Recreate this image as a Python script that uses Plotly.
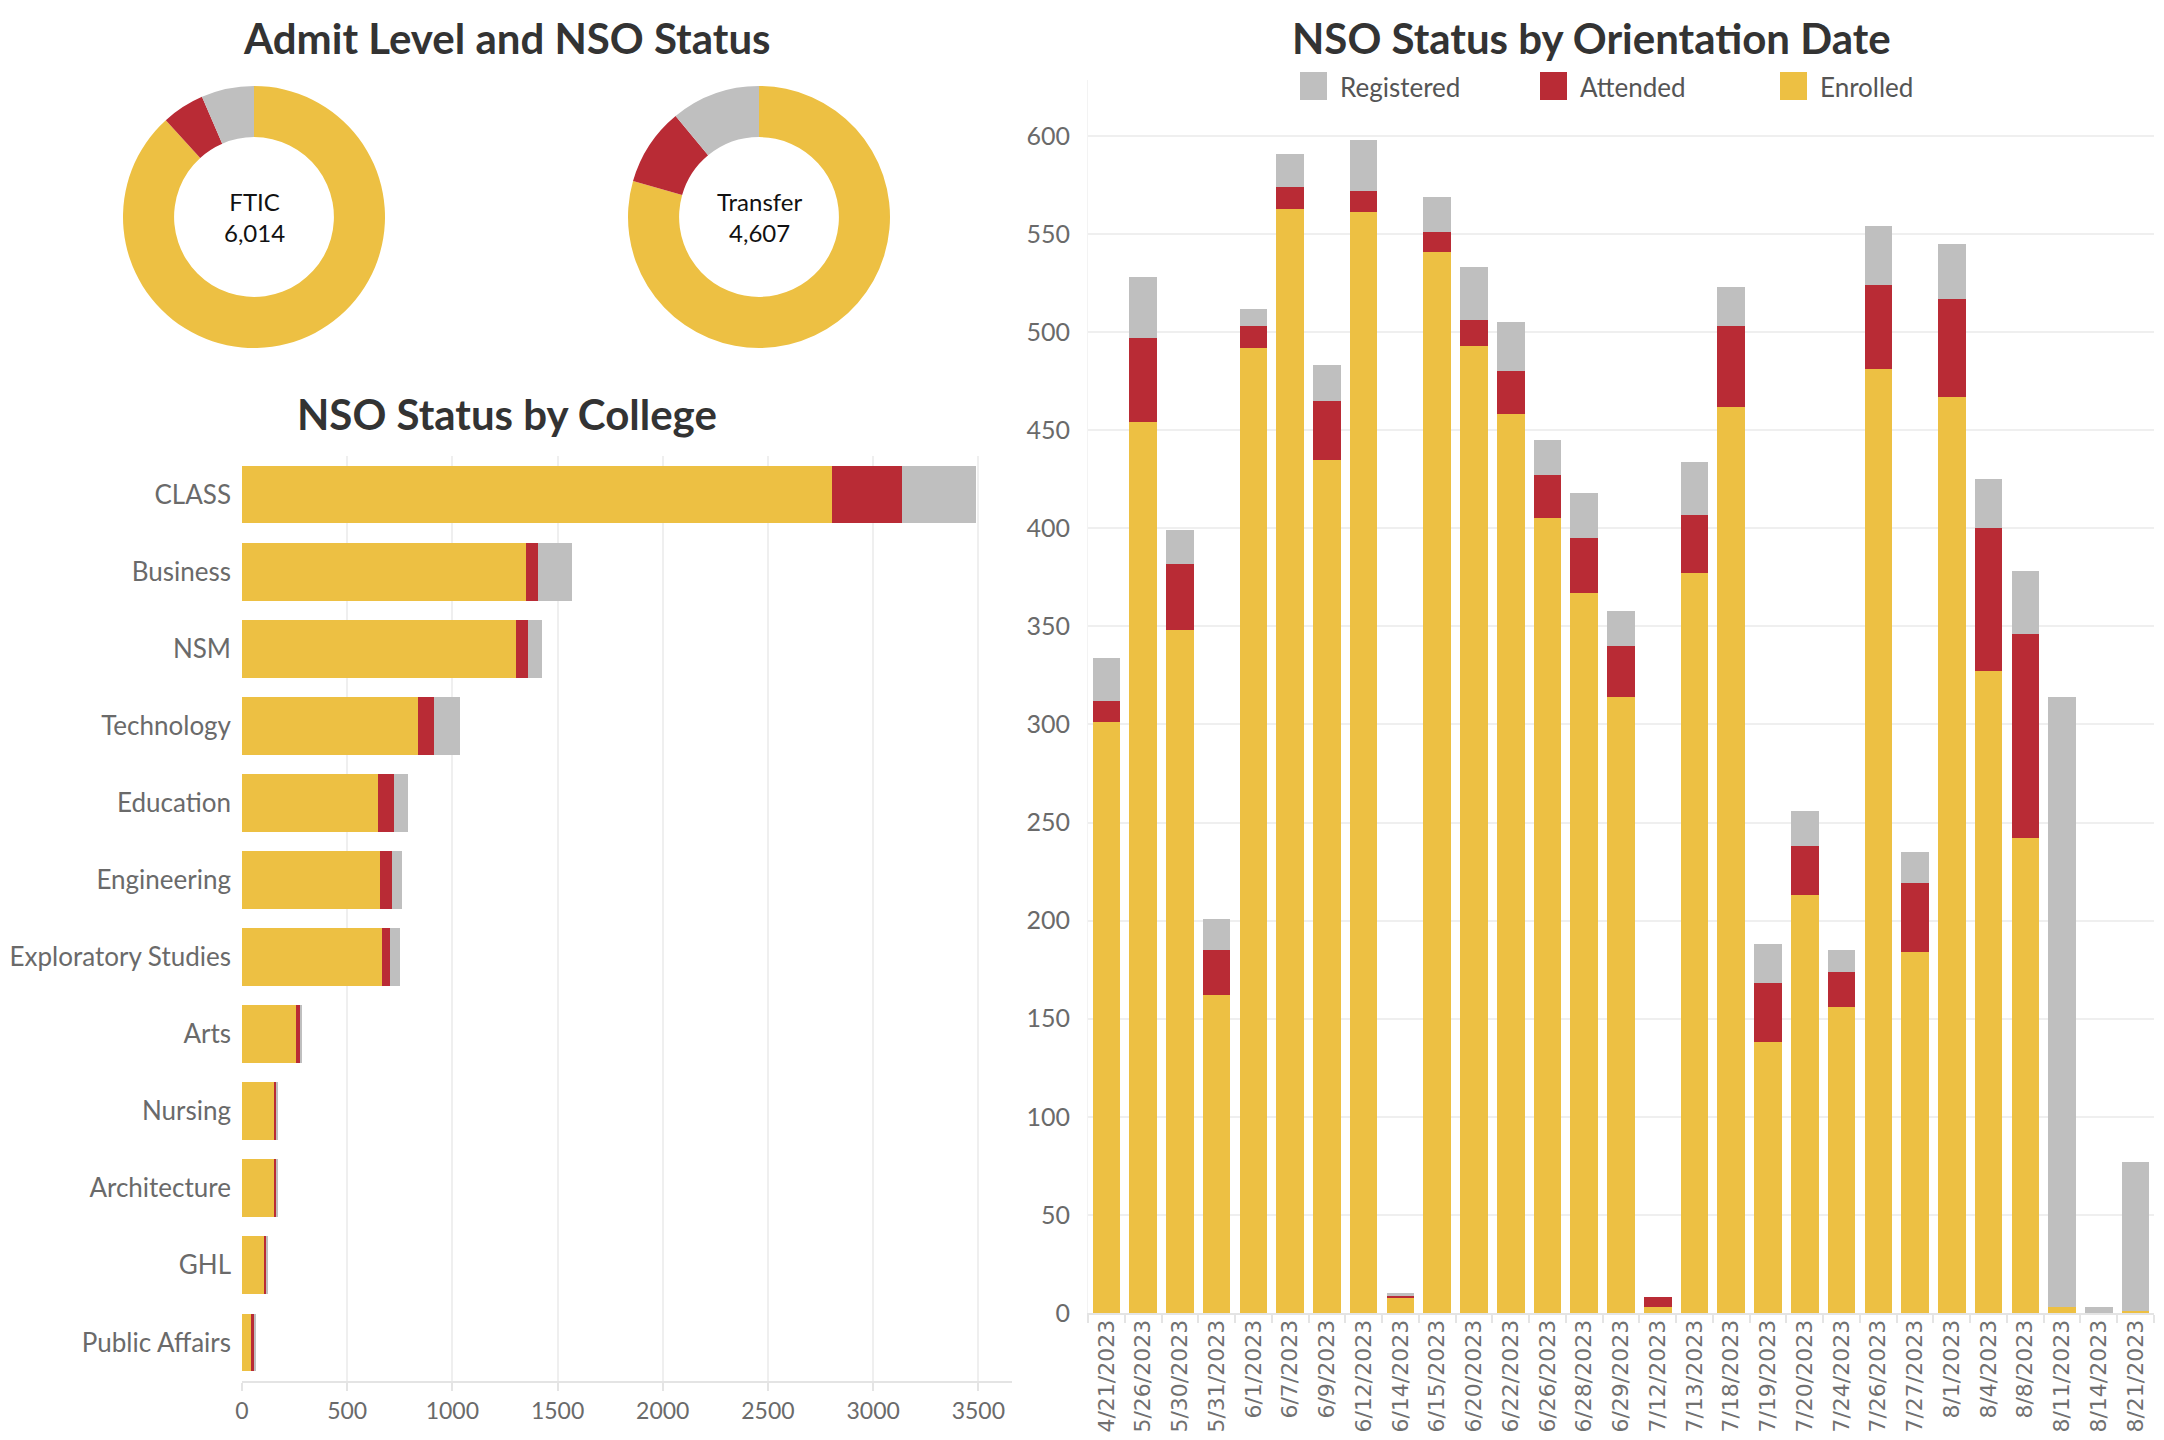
import plotly.graph_objects as go

W, H = 2164, 1440
OFF = 8  # page body margin of the html page

# ---------------- data ----------------
statuses = ["Enrolled", "Attended", "Registered"]
status_colors = ["#EDC043", "#B92B35", "#BFBFBF"]

admit_levels = ["FTIC", "Transfer"]
admit_totals = [6014, 4607]
admit_enrolled = [5307, 3659]
admit_attended = [316, 442]
admit_registered = [391, 506]

colleges = ["CLASS", "Business", "NSM", "Technology", "Education", "Engineering",
            "Exploratory Studies", "Arts", "Nursing", "Architecture", "GHL", "Public Affairs"]
college_enrolled = [2806, 1351, 1303, 837, 647, 656, 666, 258, 153, 153, 105, 44]
college_attended = [332, 56, 58, 76, 76, 58, 37, 19, 10, 10, 12, 15]
college_registered = [352, 162, 65, 124, 66, 47, 48, 6, 7, 7, 3, 3]

dates = ["4/21/2023", "5/26/2023", "5/30/2023", "5/31/2023", "6/1/2023", "6/7/2023",
         "6/9/2023", "6/12/2023", "6/14/2023", "6/15/2023", "6/20/2023", "6/22/2023",
         "6/26/2023", "6/28/2023", "6/29/2023", "7/12/2023", "7/13/2023", "7/18/2023",
         "7/19/2023", "7/20/2023", "7/24/2023", "7/26/2023", "7/27/2023", "8/1/2023",
         "8/4/2023", "8/8/2023", "8/11/2023", "8/14/2023", "8/21/2023"]
date_enrolled = [301, 454, 348, 162, 492, 563, 435, 561, 8, 541, 493, 458, 405, 367, 314,
                 3, 377, 462, 138, 213, 156, 481, 184, 467, 327, 242, 3, 0, 1]
date_attended = [11, 43, 34, 23, 11, 11, 30, 11, 1, 10, 13, 22, 22, 28, 26,
                 5, 30, 41, 30, 25, 18, 43, 35, 50, 73, 104, 0, 0, 0]
date_registered = [22, 31, 17, 16, 9, 17, 18, 26, 1, 18, 27, 25, 18, 23, 18,
                   0, 27, 20, 20, 18, 11, 30, 16, 28, 25, 32, 311, 3, 76]

legend_order = ["Registered", "Attended", "Enrolled"]

# ---------------- helpers (screen pixel -> paper) ----------------
def px(x):
    return (x - OFF) / W


def py(y):
    return 1 - (y - OFF) / H


TITLE_FONT = dict(family="Lato", size=42, color="#333333")
TICK_FONT = dict(family="Lato", size=23, color="#6A6A6A")
GRID = "#EFEFEF"
AXIS = "#E4E4E4"

fig = go.Figure()

# ---------------- donuts ----------------
admit_status_values = list(zip(admit_enrolled, admit_attended, admit_registered))
centers = [(254, 217), (759, 217)]
R = 131
for i, lvl in enumerate(admit_levels):
    cx, cy = centers[i]
    fig.add_trace(go.Pie(
        labels=statuses, values=list(admit_status_values[i]),
        hole=0.61, sort=False, direction="clockwise", rotation=0,
        marker=dict(colors=status_colors, line=dict(width=0)),
        textinfo="none", showlegend=False, name=lvl,
        domain=dict(x=[px(cx - R), px(cx + R)], y=[py(cy + R), py(cy - R)]),
    ))
    fig.add_annotation(
        x=px(cx), y=py(cy), xref="paper", yref="paper",
        xanchor="center", yanchor="middle",
        text=f"{lvl}<br>{admit_totals[i]:,}", showarrow=False,
        font=dict(family="Lato", size=24, color="#111111"), align="center",
    )

# ---------------- college bars ----------------
college_series = [college_enrolled, college_attended, college_registered]
for name, color, vals in zip(statuses, status_colors, college_series):
    fig.add_trace(go.Bar(
        y=colleges, x=vals, orientation="h", name=name,
        marker=dict(color=color, line=dict(width=0)),
        xaxis="x", yaxis="y", showlegend=False,
    ))

# ---------------- date bars ----------------
date_series = [date_enrolled, date_attended, date_registered]
for name, color, vals in zip(statuses, status_colors, date_series):
    fig.add_trace(go.Bar(
        x=dates, y=vals, name=name,
        marker=dict(color=color, line=dict(width=0)),
        xaxis="x2", yaxis="y2", showlegend=False,
    ))

# ---------------- layout ----------------
fig.update_layout(
    width=W, height=H,
    margin=dict(l=0, r=0, t=0, b=0),
    paper_bgcolor="white", plot_bgcolor="white",
    barmode="stack", bargap=0.25,
    font=dict(family="Lato", color="#666666"),
    xaxis=dict(
        domain=[px(242), px(1012)], anchor="y", range=[0, 3660],
        tickvals=[0, 500, 1000, 1500, 2000, 2500, 3000, 3500],
        showgrid=True, gridcolor=GRID, gridwidth=1.5, zeroline=False,
        showline=True, linecolor=AXIS, linewidth=2,
        ticks="outside", ticklen=8, tickcolor=AXIS, tickwidth=1.5,
        tickfont=TICK_FONT, automargin=False, fixedrange=True,
    ),
    yaxis=dict(
        domain=[py(1381), py(456)], anchor="x", type="category",
        autorange="reversed", showgrid=False, zeroline=False, showline=False,
        ticks="", ticklabelstandoff=10,
        tickfont=dict(family="Lato", size=26, color="#6A6A6A"), automargin=False,
    ),
    xaxis2=dict(
        domain=[px(1088), px(2154)], anchor="y2", type="category",
        tickangle=-90, tickfont=dict(family="DejaVu Sans", size=22, color="#707070"),
        showgrid=False, zeroline=False, showline=True, linecolor=AXIS, linewidth=2,
        ticks="outside", tickson="boundaries", ticklen=8, tickcolor=AXIS, tickwidth=1.5,
        ticklabelstandoff=-4, automargin=False,
    ),
    yaxis2=dict(
        domain=[py(1313), py(80)], anchor="x2", range=[0, 628.5], dtick=50,
        showgrid=True, gridcolor=GRID, gridwidth=2, zeroline=False,
        showline=True, linecolor="#F3F3F3", linewidth=1,
        ticks="", ticklabelstandoff=12,
        tickfont=dict(family="Lato", size=25, color="#6A6A6A"), automargin=False,
    ),
)

# ---------------- titles ----------------
titles = [("Admit Level and NSO Status", 507, 38),
          ("NSO Status by College", 507, 414),
          ("NSO Status by Orientation Date", 1591, 38)]
for t, x, y in titles:
    fig.add_annotation(x=px(x), y=py(y), xref="paper", yref="paper", text=f"<b>{t}</b>",
                       showarrow=False, font=TITLE_FONT, xanchor="center", yanchor="middle")

# ---------------- legend (custom, large swatches) ----------------
leg_x = {"Registered": 1300, "Attended": 1540, "Enrolled": 1780}
color_of = dict(zip(statuses, status_colors))
for name in legend_order:
    x0 = leg_x[name]
    fig.add_shape(type="rect", xref="paper", yref="paper",
                  x0=px(x0), x1=px(x0 + 27), y0=py(100), y1=py(72),
                  fillcolor=color_of[name], line=dict(width=0))
    fig.add_annotation(x=px(x0 + 38), y=py(87), xref="paper", yref="paper",
                       text=name, showarrow=False, xanchor="left", yanchor="middle",
                       font=dict(family="Lato", size=26, color="#555555"))

fig.write_html("out.html")
